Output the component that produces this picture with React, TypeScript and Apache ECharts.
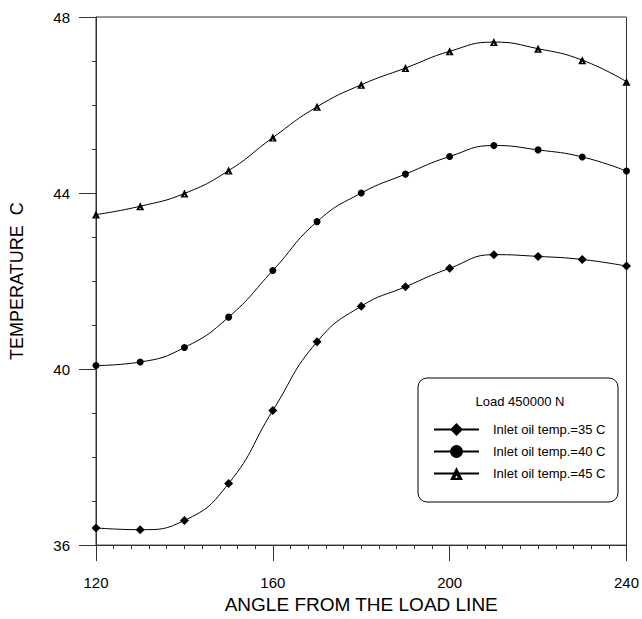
import React, { useEffect, useRef } from "react";
import * as echarts from "echarts";

const angles = [120, 130, 140, 150, 160, 170, 180, 190, 200, 210, 220, 230, 240];
const temp35 = [36.39, 36.35, 36.56, 37.4, 39.06, 40.62, 41.43, 41.87, 42.29, 42.6, 42.56, 42.49, 42.34];
const temp40 = [40.08, 40.16, 40.49, 41.18, 42.24, 43.35, 44.0, 44.43, 44.83, 45.08, 44.98, 44.82, 44.5];
const temp45 = [43.51, 43.7, 43.99, 44.51, 45.26, 45.96, 46.46, 46.84, 47.22, 47.43, 47.28, 47.02, 46.53];
const seriesNames = ["Inlet oil temp.=35 C", "Inlet oil temp.=40 C", "Inlet oil temp.=45 C"];
const triangleIcon = "path://M0,10 L5,0 L10,10 Z M4,8.6 L6,8.6 L5,6.6 Z";
const seriesSymbols = ["diamond", "circle", triangleIcon];
const seriesSizes = [9, 7, 8];
const legendTitle = "Load 450000 N";
const xName = "ANGLE FROM THE LOAD LINE";
const yName = "TEMPERATURE  C";

const FONT = "'Liberation Sans', Arial, Helvetica, sans-serif";

export default function App() {
  const ref = useRef<HTMLDivElement>(null);
  useEffect(() => {
    if (!ref.current) return;
    const chart = echarts.init(ref.current, undefined, { renderer: "svg" });
    const all = [temp35, temp40, temp45];
    chart.setOption({
      animation: false,
      backgroundColor: "#fff",
      textStyle: { fontFamily: FONT, color: "#000" },
      grid: {
        left: 96,
        right: 15,
        top: 17,
        bottom: 66,
        show: true,
        borderColor: "#333",
        borderWidth: 1,
        backgroundColor: "transparent",
      },
      xAxis: {
        type: "value",
        min: 120,
        max: 240,
        interval: 40,
        name: xName,
        nameLocation: "middle",
        nameGap: 45,
        nameTextStyle: { fontSize: 19, color: "#000", fontFamily: FONT },
        axisLine: { show: true, lineStyle: { color: "#333", width: 1 } },
        axisTick: { show: true, length: 16, lineStyle: { color: "#333" } },
        minorTick: { show: true, splitNumber: 10, length: 4, lineStyle: { color: "#333" } },
        axisLabel: { margin: 30, fontSize: 15, color: "#000", fontFamily: FONT },
        splitLine: { show: false },
      },
      yAxis: {
        type: "value",
        min: 36,
        max: 48,
        interval: 4,
        name: yName,
        nameLocation: "middle",
        nameGap: 70,
        nameTextStyle: { fontSize: 18, color: "#000", fontFamily: FONT },
        axisLine: { show: true, lineStyle: { color: "#333", width: 1 } },
        axisTick: { show: true, length: 17, lineStyle: { color: "#333" } },
        minorTick: { show: true, splitNumber: 4, length: 4, lineStyle: { color: "#333" } },
        axisLabel: { margin: 26, fontSize: 15, color: "#000", fontFamily: FONT },
        splitLine: { show: false },
      },
      legend: {
        orient: "vertical",
        left: 433,
        top: 423,
        itemWidth: 45,
        itemHeight: 16,
        itemGap: 9,
        padding: 0,
        textStyle: { fontSize: 13, color: "#000", fontFamily: FONT, padding: [0, 0, 0, 9] },
        data: seriesNames,
      },
      graphic: [
        {
          type: "rect",
          z: 1,
          shape: { x: 418, y: 378, width: 200, height: 124, r: 9 },
          style: { fill: "#fff", stroke: "#000", lineWidth: 1 },
        },
        {
          type: "text",
          z: 2,
          x: 520,
          y: 401,
          style: {
            text: legendTitle,
            fontSize: 13,
            fontFamily: FONT,
            fill: "#000",
            align: "center",
            verticalAlign: "middle",
          },
        },
      ],
      series: all.map((vals, i) => ({
        name: seriesNames[i],
        type: "line",
        data: angles.map((a, j) => [a, vals[j]]),
        smooth: 0.5,
        symbol: seriesSymbols[i],
        symbolSize: seriesSizes[i],
        showSymbol: true,
        lineStyle: { color: "#000", width: 1 },
        itemStyle: { color: "#000", borderColor: "#000", borderWidth: 0 },
        z: 3,
      })),
    });
    return () => chart.dispose();
  }, []);
  return (
    <div
      ref={ref}
      style={{ position: "fixed", left: 0, top: 0, width: 642, height: 619, background: "#fff" }}
    />
  );
}
